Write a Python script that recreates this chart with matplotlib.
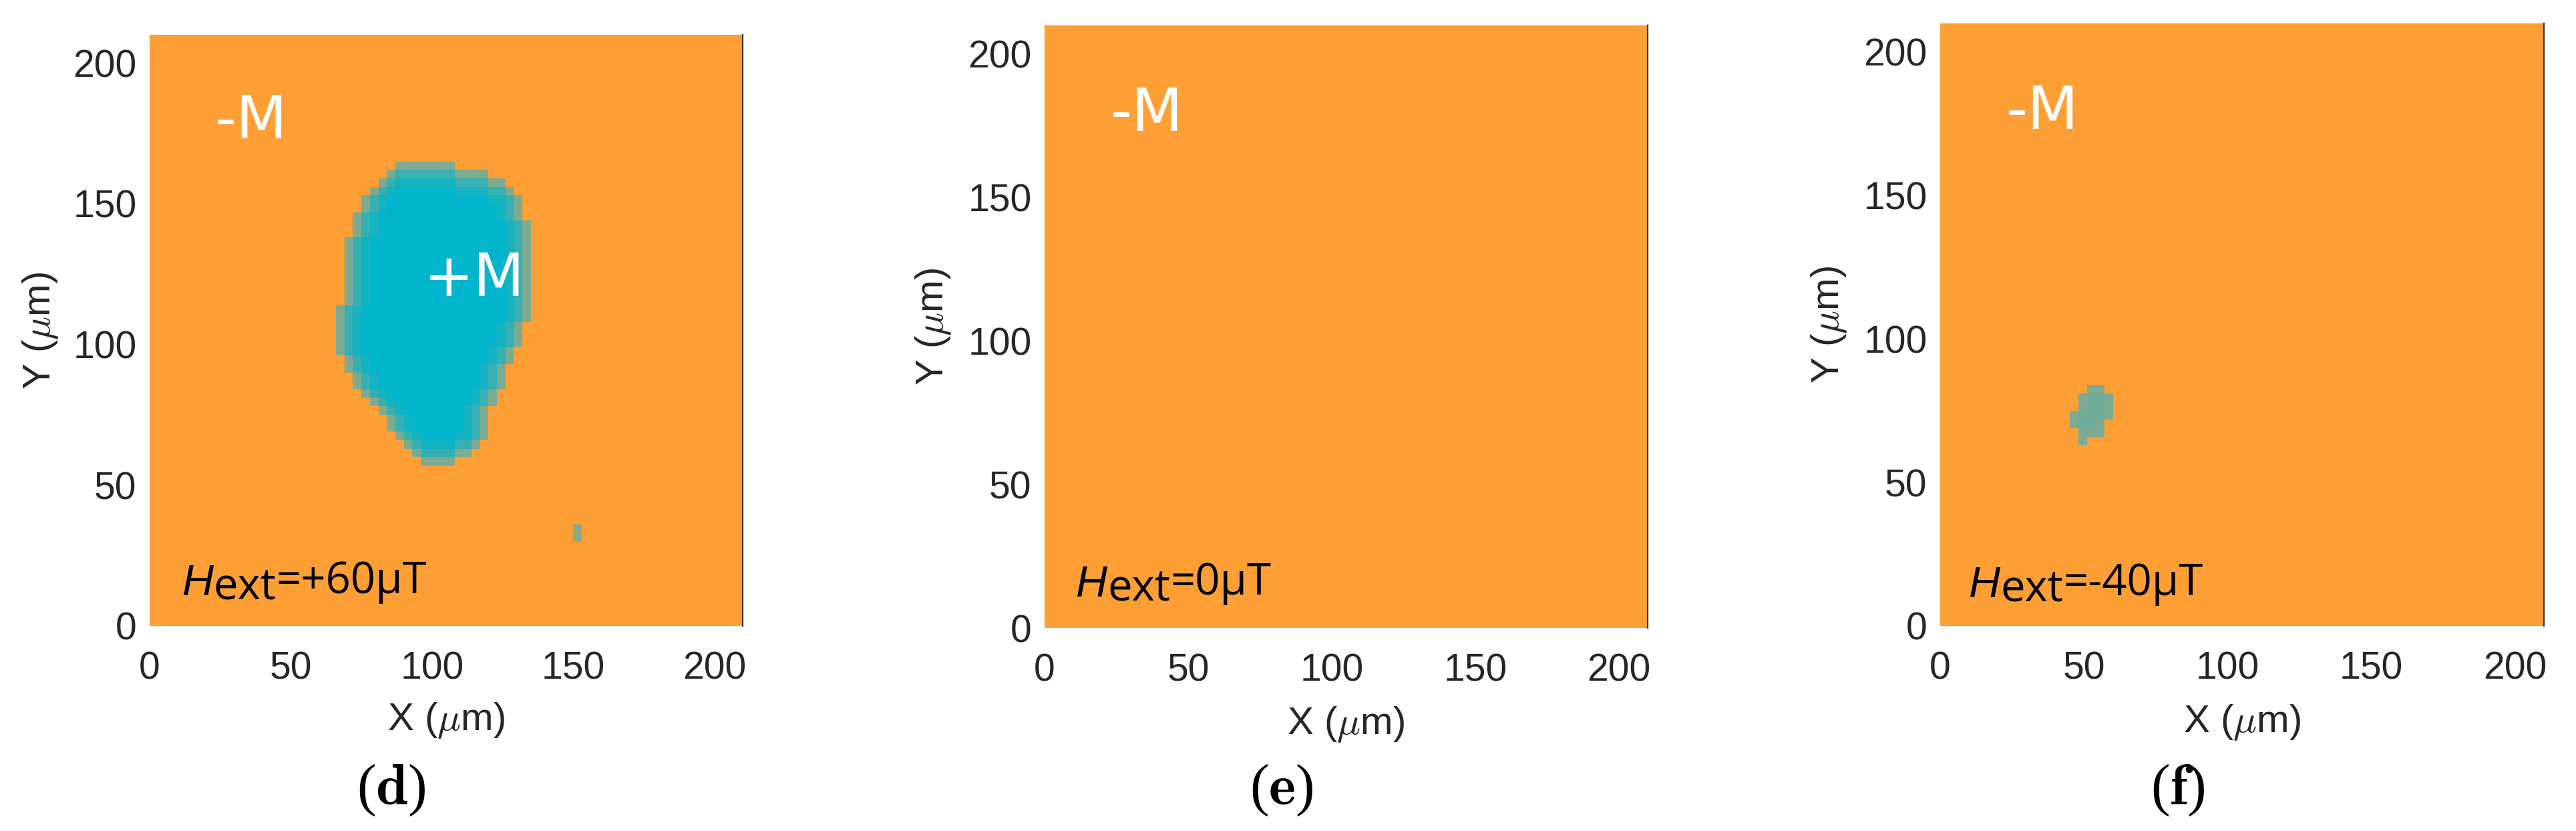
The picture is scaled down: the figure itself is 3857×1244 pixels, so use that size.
import numpy as np
import matplotlib
matplotlib.use("Agg")
import matplotlib.pyplot as plt
from matplotlib.colors import LinearSegmentedColormap

plt.rcParams["mathtext.fontset"] = "cm"

# ---------------- data (µm) ----------------
panel_letters = ["d", "e", "f"]
field_labels = ["=+60μT", "=0μT", "=-40μT"]
x_ticks = [0, 50, 100, 150, 200]
y_ticks = [0, 50, 100, 150, 200]
field_of_view = 210.0      # µm
pixel_size = 3.0           # µm

# +M domain in panel (d): rows (y_lo, y_hi, x_lo, x_hi) in µm
domain_d_rows = [
    (162, 165, 87, 108),
    (159, 162, 84, 120),
    (156, 159, 81, 126),
    (153, 156, 78, 129),
    (147, 153, 75, 132),
    (144, 147, 72, 132),
    (138, 144, 72, 135),
    (114, 138, 69, 135),
    (108, 114, 66, 135),
    (99, 108, 66, 132),
    (96, 99, 66, 129),
    (93, 96, 69, 129),
    (90, 93, 69, 126),
    (84, 90, 72, 126),
    (81, 84, 75, 123),
    (78, 81, 78, 123),
    (75, 78, 81, 120),
    (69, 75, 84, 120),
    (66, 69, 87, 120),
    (63, 66, 90, 117),
    (60, 63, 93, 114),
    (57, 60, 96, 108),
]
speck_d_rows = [(30, 36, 150, 153)]

# nucleus in panel (f)
nucleus_f_rows = [
    (81, 84, 51, 57),
    (75, 81, 48, 60),
    (72, 75, 45, 60),
    (69, 72, 45, 57),
    (66, 69, 48, 57),
    (63, 66, 48, 51),
]

domain_levels = [0.5, 0.78, 0.92, 1.0]
speck_levels = [0.45]
nucleus_levels = [0.5, 0.56]

# ---------------- helpers ----------------
n_pix = int(round(field_of_view / pixel_size))


def rasterize(rows):
    m = np.zeros((n_pix, n_pix), bool)
    for y0, y1, x0, x1 in rows:
        r0, r1 = int(round(y0 / pixel_size)), int(round(y1 / pixel_size))
        c0, c1 = int(round(x0 / pixel_size)), int(round(x1 / pixel_size))
        m[r0:r1, c0:c1] = True
    return m


def layered(mask, levels):
    val = np.zeros(mask.shape)
    cur = mask.copy()
    for lv in levels:
        inner = cur.copy()
        inner[1:, :] &= cur[:-1, :]
        inner[:-1, :] &= cur[1:, :]
        inner[:, 1:] &= cur[:, :-1]
        inner[:, :-1] &= cur[:, 1:]
        ring = cur & ~inner
        val[ring] = lv
        cur = inner
    val[cur] = levels[-1]
    return val


img_d = np.maximum(layered(rasterize(domain_d_rows), domain_levels),
                   layered(rasterize(speck_d_rows), speck_levels))
img_e = np.zeros((n_pix, n_pix))
img_f = layered(rasterize(nucleus_f_rows), nucleus_levels)
images = [img_d, img_e, img_f]

cmap = LinearSegmentedColormap.from_list(
    "mag", [(0.0, "#FE9F36"), (0.5, "#7DAB92"), (1.0, "#00B5CC")])

# ---------------- figure ----------------
W, H = 3857, 1244
fig = plt.figure(figsize=(W / 100, H / 100), dpi=100)
fig.patch.set_facecolor("white")

axes_px = [(224, 52, 1112, 937), (1564, 38, 2467, 940), (2905, 35, 3809, 937)]
letter_x = [586, 1919, 3261]
hext_pos = [(11.5, 11), (11, 11), (10, 10)]
tick_color = "#262626"

for i, (l, t, r, b) in enumerate(axes_px):
    ax = fig.add_axes([l / W, 1 - b / H, (r - l) / W, (b - t) / H])
    ax.imshow(images[i], cmap=cmap, vmin=0, vmax=1, origin="lower",
              extent=(0, field_of_view, 0, field_of_view),
              interpolation="nearest", aspect="auto")
    ax.set_xlim(0, field_of_view)
    ax.set_ylim(0, field_of_view)
    ax.set_xticks(x_ticks)
    ax.set_yticks(y_ticks)
    ax.set_xticklabels([str(v) for v in x_ticks], family="Liberation Sans",
                       fontsize=41, color=tick_color)
    ax.set_yticklabels([str(v) for v in y_ticks], family="Liberation Sans",
                       fontsize=41, color=tick_color)
    ax.tick_params(axis="x", length=0, pad=27)
    ax.tick_params(axis="y", length=0, pad=14)
    for s in ["left", "top", "bottom"]:
        ax.spines[s].set_visible(False)
    ax.spines["right"].set_color("#333333")
    ax.spines["right"].set_linewidth(1.6)

    ax.set_xlabel(r"X ($\mu$m)", family="Liberation Sans", fontsize=42,
                  color=tick_color, va="center")
    ax.set_ylabel(r"Y ($\mu$m)", family="Liberation Sans", fontsize=42,
                  color=tick_color, va="center")
    ax.xaxis.set_label_coords(0.5, -0.16)
    ax.yaxis.set_label_coords(-0.184, 0.5)

    ax.text(23, 179, "-M", color="white", family="DejaVu Sans", fontsize=64,
            ha="left", va="center")
    if i == 0:
        ax.text(97, 123, "+M", color="white", family="DejaVu Sans",
                fontsize=64, ha="left", va="center")

    hx, hy = hext_pos[i]
    t1 = ax.text(hx, hy, "H", family="Liberation Sans", style="italic",
                 fontsize=47, color="black", ha="left", va="baseline")
    t2 = ax.annotate("ext", xy=(1, 0), xycoords=t1, xytext=(0, -7),
                     textcoords="offset points", family="Open Sans",
                     fontsize=47, color="black", ha="left", va="bottom")
    ax.annotate(field_labels[i], xy=(1, 0), xycoords=t2, xytext=(0, 7),
                textcoords="offset points", family="Open Sans",
                fontsize=47, color="black", ha="left", va="bottom")

    fig.text(letter_x[i] / W, 1 - 1183 / H,
             "(" + r"$\mathbf{" + panel_letters[i] + "}$" + ")",
             family="Liberation Serif", fontsize=62, ha="center", va="center")

fig.savefig("out.png", dpi=100, facecolor="white")
